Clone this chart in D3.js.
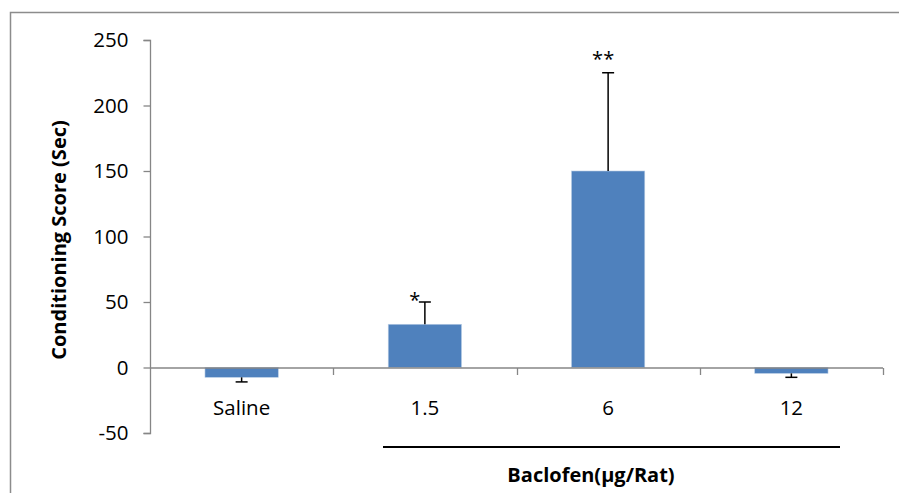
<!DOCTYPE html>
<html>
<head>
    <style>
        body { margin: 0; background: #fff; }
        text { font-family: "Open Sans", sans-serif; fill: #000; }
    </style>
    <script src="https://d3js.org/d3.v7.min.js"></script>
</head>
<body>
    <div id="chart"></div>

    <script>
        var categories = ["Saline", "1.5", "6", "12"];
        var values = [-7.5, 33, 150, -4.5];
        var errors = [-3.5, 17, 75, -3];   // sign = direction of the error bar
        var marks = ["", "*", "**", ""];
        var yTicks = [-50, 0, 50, 100, 150, 200, 250];

        var width = 899, height = 493;
        var fontFam = "'Open Sans', sans-serif";

        var svg = d3.select("#chart")
                    .append("svg")
                    .attr("width", width)
                    .attr("height", height);

        // outer chart frame (only top and left edges are visible)
        svg.append("path")
            .attr("d", "M10.5," + height + "V12.5H" + width)
            .attr("fill", "none")
            .attr("stroke", "#8c8c8c")
            .attr("stroke-width", 1.5);

        var x = d3.scaleBand()
            .domain(categories)
            .range([150, 883])
            .paddingInner(0.6)
            .paddingOuter(0.3);

        var y = d3.scaleLinear()
            .domain([-50, 250])
            .range([433, 40]);

        // y axis
        var yAxis = svg.append("g")
            .attr("transform", "translate(150.5,0)")
            .call(d3.axisLeft(y).tickValues(yTicks).tickFormat(String).tickSize(7).tickPadding(15));
        yAxis.selectAll("path, line").attr("stroke", "#868686").attr("stroke-width", 1.3);
        yAxis.select(".domain").attr("d", "M-7," + (y(250) + 0.5) + "H0V" + (y(-50) + 0.5) + "H-7");
        yAxis.selectAll("text")
            .style("font-size", "20.5px")
            .style("font-family", fontFam)
            .attr("fill", "#000");

        // bars
        svg.selectAll(".bar")
            .data(values)
            .enter()
            .append("rect")
            .attr("class", "bar")
            .attr("x", function(d, i) { return x(categories[i]); })
            .attr("width", x.bandwidth())
            .attr("y", function(d) { return Math.min(y(d), y(0)); })
            .attr("height", function(d) { return Math.abs(y(d) - y(0)); })
            .attr("fill", "#4f81bd")
            .attr("stroke", "#b9cde5")
            .attr("stroke-width", 0.6);

        // error bars
        var eb = svg.selectAll(".err")
            .data(values)
            .enter()
            .append("g")
            .attr("class", "err")
            .attr("transform", function(d, i) {
                return "translate(" + (x(categories[i]) + x.bandwidth() / 2) + ",0)";
            });
        eb.append("line")
            .attr("x1", 0).attr("x2", 0)
            .attr("y1", function(d) { return y(d); })
            .attr("y2", function(d, i) { return y(d + errors[i]); })
            .attr("stroke", "#000").attr("stroke-width", 1.5);
        eb.append("line")
            .attr("x1", -6).attr("x2", 6)
            .attr("y1", function(d, i) { return y(d + errors[i]); })
            .attr("y2", function(d, i) { return y(d + errors[i]); })
            .attr("stroke", "#000").attr("stroke-width", 1.5);

        // significance marks
        svg.selectAll(".sig")
            .data(marks)
            .enter()
            .append("text")
            .attr("class", "sig")
            .attr("x", function(d, i) { return x(categories[i]) + x.bandwidth() / 2 - (d.length == 1 ? 10 : 5); })
            .attr("y", function(d, i) { return y(values[i] + errors[i]) + (d.length == 1 ? 5 : -7); })
            .attr("text-anchor", "middle")
            .style("font-size", "20px")
            .style("font-family", fontFam)
            .text(function(d) { return d; });

        // x axis at zero
        var xAxis = svg.append("g")
            .attr("transform", "translate(0," + (y(0) + 0.5) + ")");
        xAxis.append("line")
            .attr("x1", 150).attr("x2", 883)
            .attr("stroke", "#868686").attr("stroke-width", 1.3);
        var step = x.step();
        var bounds = categories.map(function(c) { return x(c) - x.paddingInner() * step / 2; });
        bounds.push(883);
        xAxis.selectAll(".tk")
            .data(bounds.slice(1))
            .enter()
            .append("line")
            .attr("x1", function(d) { return Math.round(d) + 0.5; })
            .attr("x2", function(d) { return Math.round(d) + 0.5; })
            .attr("y1", 0).attr("y2", 7)
            .attr("stroke", "#868686").attr("stroke-width", 1.3);

        // category labels
        svg.selectAll(".cat")
            .data(categories)
            .enter()
            .append("text")
            .attr("class", "cat")
            .attr("x", function(d) { return x(d) + x.bandwidth() / 2; })
            .attr("y", 415)
            .attr("text-anchor", "middle")
            .style("font-size", "20.5px")
            .style("font-family", fontFam)
            .text(function(d) { return d; });

        // bracket under the baclofen doses
        svg.append("line")
            .attr("x1", 383).attr("x2", 840)
            .attr("y1", 447).attr("y2", 447)
            .attr("stroke", "#000").attr("stroke-width", 2.2);

        svg.append("text")
            .attr("x", 591)
            .attr("y", 482)
            .attr("text-anchor", "middle")
            .style("font-size", "20px")
            .style("font-weight", "bold")
            .style("font-family", fontFam)
            .text("Baclofen(µg/Rat)");

        svg.append("text")
            .attr("transform", "translate(66,240) rotate(-90)")
            .attr("text-anchor", "middle")
            .style("font-size", "20px")
            .style("font-weight", "bold")
            .style("font-family", fontFam)
            .text("Conditioning Score (Sec)");
    </script>
</body>
</html>
